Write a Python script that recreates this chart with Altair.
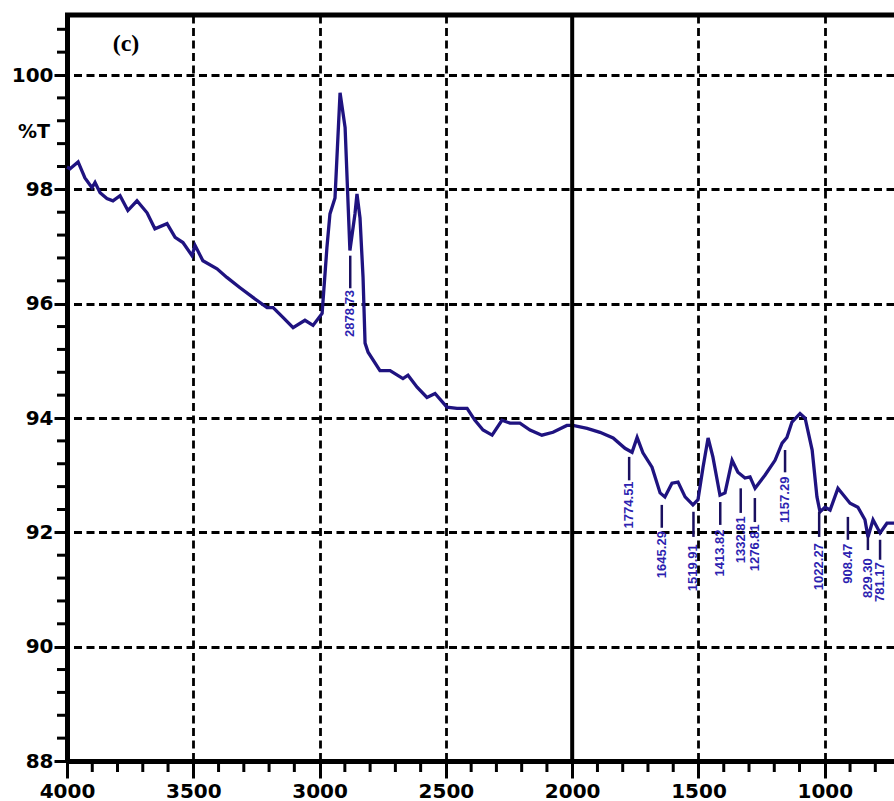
import altair as alt
import pandas as pd

# ---- spectrum (wavenumber cm-1, %T) ----
wavenumber = [4000, 3988, 3956, 3929, 3901, 3889, 3869, 3842, 3818, 3790,
              3759, 3723, 3683, 3652, 3604, 3572, 3541, 3505, 3493, 3462,
              3406, 3367, 3315, 3264, 3208, 3184, 3145, 3105, 3058, 3026,
              2990, 2971, 2959, 2939, 2919, 2899, 2880, 2860, 2852, 2840,
              2828, 2820, 2808, 2761, 2721, 2670, 2650, 2614, 2575, 2543,
              2496, 2456, 2416, 2385, 2353, 2317, 2278, 2246, 2207, 2167,
              2120, 2076, 2021, 1997, 1941, 1890, 1838, 1791, 1763, 1743,
              1720, 1684, 1652, 1633, 1605, 1581, 1553, 1522, 1502, 1482,
              1462, 1443, 1415, 1395, 1367, 1344, 1316, 1296, 1276, 1237,
              1197, 1169, 1150, 1130, 1098, 1078, 1050, 1031, 1019, 999,
              979, 948, 900, 869, 841, 829, 809, 781, 754, 726]
transmittance = [98.39, 98.36, 98.48, 98.20, 98.03, 98.12, 97.94, 97.84, 97.80, 97.89,
                 97.63, 97.80, 97.59, 97.31, 97.40, 97.16, 97.07, 96.84, 97.02, 96.75,
                 96.61, 96.46, 96.28, 96.11, 95.93, 95.93, 95.76, 95.58, 95.71, 95.62,
                 95.83, 96.98, 97.57, 97.85, 99.69, 99.08, 96.93, 97.57, 97.92, 97.50,
                 96.46, 95.31, 95.15, 94.83, 94.83, 94.69, 94.75, 94.54, 94.36, 94.43,
                 94.19, 94.17, 94.17, 93.96, 93.79, 93.70, 93.96, 93.91, 93.91, 93.79,
                 93.70, 93.75, 93.87, 93.87, 93.82, 93.75, 93.65, 93.47, 93.40, 93.66,
                 93.39, 93.14, 92.69, 92.62, 92.86, 92.88, 92.62, 92.48, 92.57, 93.14,
                 93.65, 93.32, 92.65, 92.69, 93.26, 93.05, 92.95, 92.97, 92.77, 93.00,
                 93.26, 93.56, 93.66, 93.93, 94.08, 94.00, 93.44, 92.62, 92.36, 92.44,
                 92.39, 92.77, 92.51, 92.44, 92.22, 91.92, 92.22, 91.99, 92.16, 92.16]

# ---- peak annotations ----
peak_labels = ["2878.73", "1774.51", "1645.29", "1519.91", "1413.82", "1332.81",
               "1276.81", "1157.29", "1022.27", "908.47", "829.30", "781.17"]
peak_tick_top = [96.84, 93.32, 92.48, 92.36, 92.53, 92.77, 92.60, 93.44, 92.36, 92.27, 91.92, 91.87]
peak_tick_bottom = [96.27, 92.91, 92.08, 91.92, 92.13, 92.34, 92.18, 93.05, 91.92, 91.87, 91.69, 91.52]
peak_text_y = [95.83, 92.48, 91.61, 91.38, 91.64, 91.87, 91.73, 92.57, 91.40, 91.45, 91.20, 91.13]

# ---- axes ----
x_major = [4000, 3500, 3000, 2500, 2000, 1500, 1000]
x_minor = [v for v in range(3900, 700, -100) if v % 500 != 0]
y_major = [88, 90, 92, 94, 96, 98, 100]
y_minor = [round(88 + 0.4 * i, 1) for i in range(0, 33) if round(88 + 0.4 * i, 1) % 2 != 0]
x_solid = [2000]

W, H = 827, 746
xscale = alt.Scale(domain=[726, 4000], reverse=True, nice=False, zero=False)
yscale = alt.Scale(domain=[88, 101.05], nice=False, zero=False)

spec_df = pd.DataFrame({"wn": wavenumber, "T": transmittance})
peak_df = pd.DataFrame({
    "wn": [float(s) for s in peak_labels],
    "label": peak_labels,
    "top": peak_tick_top,
    "bottom": peak_tick_bottom,
    "ty": peak_text_y,
})

common = dict(labelFont="DejaVu Sans", labelFontWeight="bold", labelFontSize=20,
              labelColor="black", domainColor="black", tickColor="black",
              gridColor="black", gridDash=[8, 4.5], gridWidth=2.8, gridOpacity=1,
              labelFlush=False, labelOverlap=False, title=None, format="d",
              grid=True, domainWidth=5, tickWidth=3)
xaxis = alt.Axis(values=x_major, tickSize=17, labelPadding=3, **common)
yaxis = alt.Axis(values=y_major, tickSize=13, labelPadding=1, **common)

line = alt.Chart(spec_df).mark_line(color="#1f1380", strokeWidth=3.3, interpolate="linear").encode(
    x=alt.X("wn:Q", scale=xscale, axis=xaxis),
    y=alt.Y("T:Q", scale=yscale, axis=yaxis),
)

solid = alt.Chart(pd.DataFrame({"v": x_solid})).mark_rule(color="black", strokeWidth=4).encode(
    x=alt.X("v:Q", scale=xscale, axis=xaxis))

xminor = alt.Chart(pd.DataFrame({"v": x_minor})).mark_rule(color="black", strokeWidth=3).encode(
    x=alt.X("v:Q", scale=xscale, axis=xaxis), y=alt.value(H), y2=alt.value(H + 11))

yminor = alt.Chart(pd.DataFrame({"v": y_minor})).mark_rule(color="black", strokeWidth=3).encode(
    y=alt.Y("v:Q", scale=yscale, axis=yaxis), x=alt.value(0), x2=alt.value(-10))

top_border = alt.Chart(pd.DataFrame({"v": [0]})).mark_rule(color="black", strokeWidth=5).encode(
    x=alt.value(-2), x2=alt.value(W), y=alt.value(0))

peak_ticks = alt.Chart(peak_df).mark_rule(color="#1a1060", strokeWidth=2.5).encode(
    x=alt.X("wn:Q", scale=xscale, axis=xaxis),
    y=alt.Y("top:Q", scale=yscale, axis=yaxis), y2="bottom:Q")

peak_text = alt.Chart(peak_df).mark_text(angle=270, align="center", baseline="middle",
                                         font="Liberation Sans", fontWeight="bold",
                                         fontSize=13, color="#2d1fb0").encode(
    x=alt.X("wn:Q", scale=xscale, axis=xaxis),
    y=alt.Y("ty:Q", scale=yscale, axis=yaxis),
    text="label:N")

pct = alt.Chart(pd.DataFrame({"t": ["%T"]})).mark_text(
    align="right", baseline="middle", font="DejaVu Sans", fontWeight="bold",
    fontSize=19, color="black").encode(x=alt.value(-17), y=alt.value(117), text="t:N")

panel = alt.Chart(pd.DataFrame({"t": ["(c)"]})).mark_text(
    align="center", baseline="middle", font="Liberation Serif", fontWeight="bold",
    fontSize=24, color="black").encode(x=alt.value(59), y=alt.value(29), text="t:N")

chart = alt.layer(line, solid, xminor, yminor, top_border, peak_ticks, peak_text, pct, panel).properties(
    width=W, height=H, autosize="none",
    padding={"left": 67, "top": 15, "right": 0, "bottom": 40},
    background="white",
).configure_view(stroke=None)

chart.save("out.html", embed_options={"renderer": "svg", "actions": False})
